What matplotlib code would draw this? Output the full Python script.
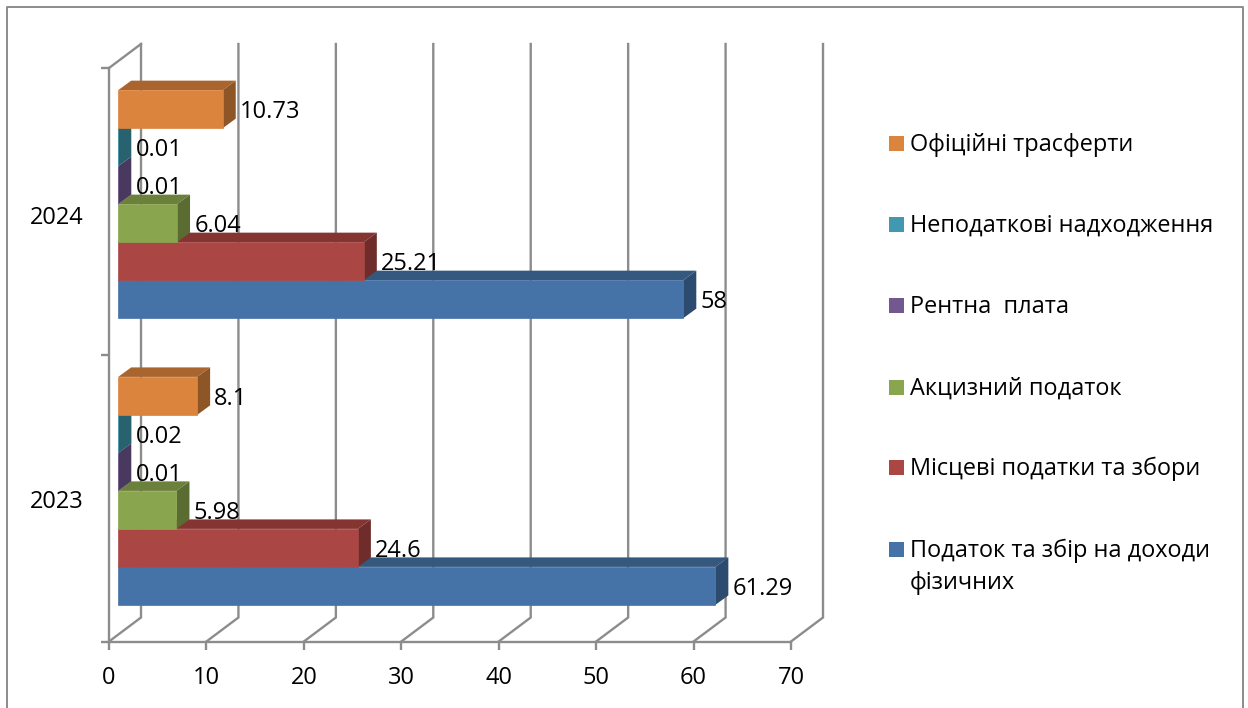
import matplotlib
matplotlib.use("Agg")
import matplotlib.pyplot as plt
from matplotlib.patches import Polygon, Rectangle

plt.rcParams["font.family"] = ["Open Sans", "DejaVu Sans"]

# data, bottom series first
years = ["2023", "2024"]
series_names = [
    "Податок та збір на доходи\nфізичних",
    "Місцеві податки та збори",
    "Акцизний податок",
    "Рентна  плата",
    "Неподаткові надходження",
    "Офіційні трасферти",
]
income_tax = [61.29, 58]
local_tax = [24.6, 25.21]
excise = [5.98, 6.04]
rent = [0.01, 0.01]
non_tax = [0.02, 0.01]
transfers = [8.1, 10.73]
all_series = [income_tax, local_tax, excise, rent, non_tax, transfers]
label_texts = [
    ["61.29", "58"],
    ["24.6", "25.21"],
    ["5.98", "6.04"],
    ["0.01", "0.01"],
    ["0.02", "0.01"],
    ["8.1", "10.73"],
]
x_ticks = [0, 10, 20, 30, 40, 50, 60, 70]

# colours: front, top, side
front = ["#4572A7", "#AA4643", "#89A54E", "#71588F", "#4198AF", "#DB843D"]
top = ["#35587F", "#843532", "#6A803B", "#57436F", "#2F7386", "#A9652D"]
side = ["#2D4A6F", "#6E2C2A", "#5A6C32", "#4A395E", "#28626F", "#8E5526"]
grid_col = "#8C8C8C"

W, H = 1248, 708
PX_X = 9.743   # pixels per x unit
PX_Y = 286.75  # pixels per category
X0, Y0 = 109, 641.5

fig = plt.figure(figsize=(W / 100, H / 100), dpi=100)
ax = fig.add_axes([0, 0, 1, 1])
ax.set_xlim(-X0 / PX_X, (W - X0) / PX_X)
ax.set_ylim(-(H - Y0) / PX_Y, Y0 / PX_Y)
ax.patch.set_visible(False)

# 3d offsets in data units
wall_dx, wall_dy = 32 / PX_X, 24 / PX_Y
bar_start = 9.2 / PX_X
bar_dx, bar_dy = 13 / PX_X, 9.5 / PX_Y
bar_h = 38 / PX_Y
group_base = 36.6 / PX_Y

# axes
for s in ["top", "right"]:
    ax.spines[s].set_visible(False)
for s in ["left", "bottom"]:
    ax.spines[s].set_position(("data", 0))
    ax.spines[s].set_color(grid_col)
    ax.spines[s].set_linewidth(1.7)
ax.spines["bottom"].set_bounds(0, 70)
ax.spines["left"].set_bounds(0, 2)
ax.set_xticks(x_ticks)
ax.set_yticks([0, 1, 2])
ax.set_yticklabels([])
ax.tick_params(axis="both", length=5.5, width=1.7, color=grid_col)
ax.tick_params(axis="x", labelsize=17, pad=12.5)

# back wall grid and floor diagonals
for t in x_ticks:
    ax.plot([t, t + wall_dx, t + wall_dx], [0, wall_dy, 2 + wall_dy],
            color=grid_col, lw=1.7, zorder=1, solid_joinstyle="miter")
ax.plot([0, wall_dx], [2, 2 + wall_dy], color=grid_col, lw=1.7, zorder=1)

# bars, drawn bottom to top so upper bars overlap the lower ones
for g in range(len(years)):
    for k, vals in enumerate(all_series):
        v = vals[g]
        x1 = bar_start
        x2 = bar_start + v
        y1 = g + group_base + k * bar_h
        y2 = y1 + bar_h
        z = 3 + g * 10 + k
        ax.add_patch(Polygon([(x1, y2), (x2, y2), (x2 + bar_dx, y2 + bar_dy), (x1 + bar_dx, y2 + bar_dy)],
                             fc=top[k], ec="none", zorder=z))
        ax.add_patch(Polygon([(x2, y1), (x2 + bar_dx, y1 + bar_dy), (x2 + bar_dx, y2 + bar_dy), (x2, y2)],
                             fc=side[k], ec="none", zorder=z))
        ax.add_patch(Rectangle((x1, y1), v, bar_h, fc=front[k], ec=front[k], lw=0.5, alpha=1, zorder=z))
        ax.annotate(label_texts[k][g], (x2 + bar_dx, (y1 + y2) / 2), xytext=(3, -2.2),
                    textcoords="offset points", fontsize=17, va="center", ha="left",
                    color="black", zorder=40)

# category labels
for g, (yr, dy) in enumerate(zip(years, [-2.8, -4.8])):
    ax.annotate(yr, (0, g + 0.5), xytext=(-18, dy), textcoords="offset points",
                fontsize=17, ha="right", va="center")

# legend
leg_y = [549, 467, 387, 305, 224, 143]
for k, name in enumerate(series_names):
    yy = leg_y[k]
    fig.add_artist(Rectangle((889 / W, 1 - (yy + 8) / H), 15 / W, 15 / H, fc=front[k], ec="none",
                             transform=fig.transFigure))
    fig.text(910 / W, 1 - (yy - 10) / H, name, fontsize=16.9, va="top", ha="left", linespacing=1.45)

# outer chart frame
frame_x = [7 / W, 7 / W, 1243 / W, 1243 / W]
frame_y = [0, 1 - 7 / H, 1 - 7 / H, 0]
fig.add_artist(plt.Line2D(frame_x, frame_y, color=grid_col, lw=1.4, transform=fig.transFigure))

fig.savefig("out.png", dpi=100)
